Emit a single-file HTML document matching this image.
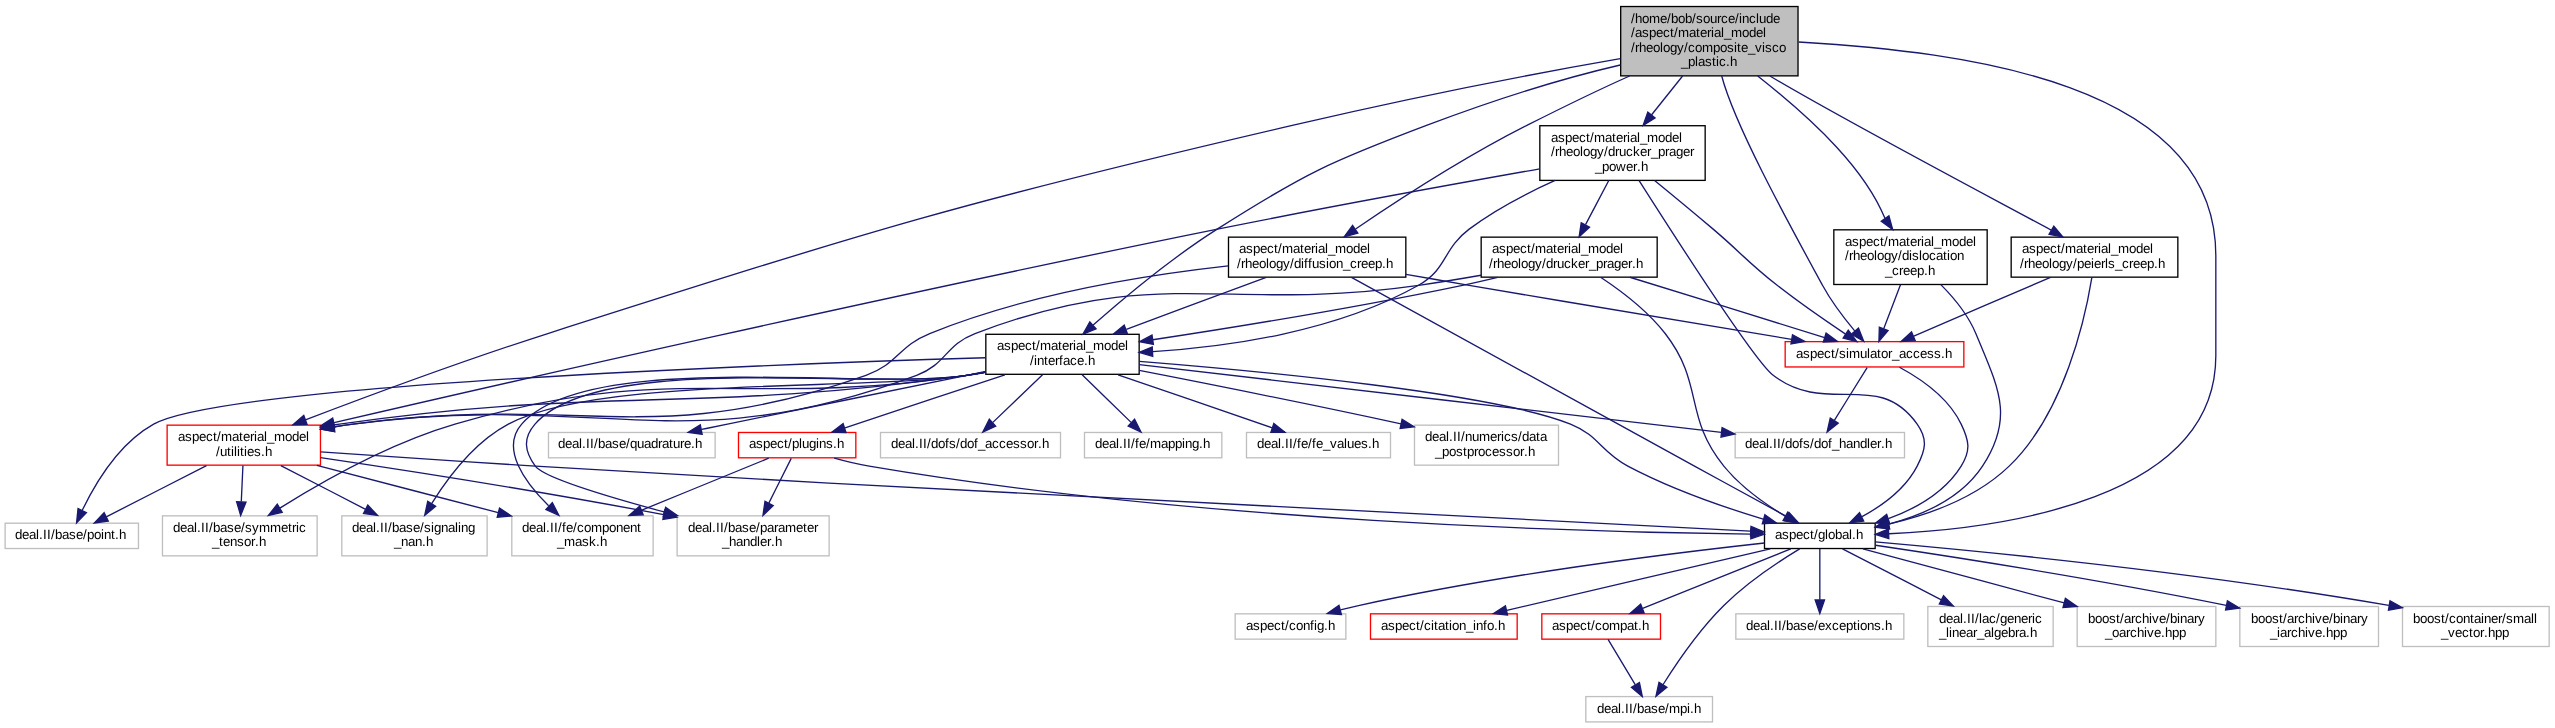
<!DOCTYPE html><html><head><meta charset="utf-8"><style>html,body{margin:0;padding:0;background:#fff;overflow:hidden}svg{display:block}text{font-family:"Liberation Sans",sans-serif;font-size:13.33px;fill:#000;text-rendering:geometricPrecision}</style></head><body>
<svg width="2555" height="728" viewBox="0 0 2555 728">
<defs><filter id="g" x="0" y="0" width="1" height="1"><feOffset dx="0" dy="0"/></filter></defs>
<g><rect x="1620.69" y="6.53" width="177.33" height="69.33" fill="#bfbfbf" stroke="#000" stroke-width="1.33"/><rect x="1228.5" y="237.15" width="177.33" height="40" fill="#fff" stroke="#000" stroke-width="1.33"/><rect x="1764.5" y="523.19" width="110.67" height="25.33" fill="#fff" stroke="#000" stroke-width="1.33"/><rect x="985.83" y="334.3" width="153.33" height="40" fill="#fff" stroke="#000" stroke-width="1.33"/><rect x="167.13" y="425.15" width="153.33" height="40" fill="#fff" stroke="#f00" stroke-width="1.33"/><rect x="1785.17" y="341.63" width="178.67" height="25.33" fill="#fff" stroke="#f00" stroke-width="1.33"/><rect x="1833.83" y="229.82" width="153.33" height="54.67" fill="#fff" stroke="#000" stroke-width="1.33"/><rect x="2011.17" y="237.15" width="166.67" height="40" fill="#fff" stroke="#000" stroke-width="1.33"/><rect x="1539.83" y="125.72" width="165.33" height="54.67" fill="#fff" stroke="#000" stroke-width="1.33"/><rect x="1235.17" y="613.83" width="110.67" height="25.33" fill="#fff" stroke="#bfbfbf" stroke-width="1.33"/><rect x="1370.5" y="613.83" width="146.67" height="25.33" fill="#fff" stroke="#f00" stroke-width="1.33"/><rect x="1541.83" y="613.83" width="118.67" height="25.33" fill="#fff" stroke="#f00" stroke-width="1.33"/><rect x="1585.83" y="696.58" width="126.67" height="25.33" fill="#fff" stroke="#bfbfbf" stroke-width="1.33"/><rect x="1735.83" y="613.83" width="168" height="25.33" fill="#fff" stroke="#bfbfbf" stroke-width="1.33"/><rect x="1927.83" y="606.5" width="125.33" height="40" fill="#fff" stroke="#bfbfbf" stroke-width="1.33"/><rect x="2077.17" y="606.5" width="138.67" height="40" fill="#fff" stroke="#bfbfbf" stroke-width="1.33"/><rect x="2239.83" y="606.5" width="138.67" height="40" fill="#fff" stroke="#bfbfbf" stroke-width="1.33"/><rect x="2402.5" y="606.5" width="146.67" height="40" fill="#fff" stroke="#bfbfbf" stroke-width="1.33"/><rect x="1414.5" y="425.15" width="144" height="40" fill="#fff" stroke="#bfbfbf" stroke-width="1.33"/><rect x="5.13" y="523.19" width="133.33" height="25.33" fill="#fff" stroke="#bfbfbf" stroke-width="1.33"/><rect x="677.13" y="515.85" width="152" height="40" fill="#fff" stroke="#bfbfbf" stroke-width="1.33"/><rect x="162.47" y="515.85" width="154.67" height="40" fill="#fff" stroke="#bfbfbf" stroke-width="1.33"/><rect x="511.8" y="515.85" width="141.33" height="40" fill="#fff" stroke="#bfbfbf" stroke-width="1.33"/><rect x="341.8" y="515.85" width="145.33" height="40" fill="#fff" stroke="#bfbfbf" stroke-width="1.33"/><rect x="548.47" y="432.48" width="166.67" height="25.33" fill="#fff" stroke="#bfbfbf" stroke-width="1.33"/><rect x="880.5" y="432.48" width="180" height="25.33" fill="#fff" stroke="#bfbfbf" stroke-width="1.33"/><rect x="1084.5" y="432.48" width="137.33" height="25.33" fill="#fff" stroke="#bfbfbf" stroke-width="1.33"/><rect x="1246.5" y="432.48" width="144" height="25.33" fill="#fff" stroke="#bfbfbf" stroke-width="1.33"/><rect x="1735.17" y="432.48" width="169.33" height="25.33" fill="#fff" stroke="#bfbfbf" stroke-width="1.33"/><rect x="738.5" y="432.48" width="117.33" height="25.33" fill="#fff" stroke="#f00" stroke-width="1.33"/><rect x="1481.17" y="237.15" width="176" height="40" fill="#fff" stroke="#000" stroke-width="1.33"/></g>
<g fill="none" stroke="#191970" stroke-width="1.33"><path d="M1629.6,76C1592.9,92.32 1565.69,105.83 1527.83,124.92 1465.17,156.52 1396.94,200.9 1355.62,229"/><path d="M1798.6,42C1965.09,51.82 2215.83,82.64 2215.83,255.82 2215.83,255.82 2215.83,255.82 2215.83,355.65 2215.83,499.34 2002.47,528.43 1888.97,533.77"/><path d="M1620.3,65C1557.97,79.4 1499.97,97.7 1427.83,124.92 1330.09,161.78 1305.31,173.08 1217.17,229.12 1171.46,258.18 1123.41,298.42 1093.21,325.05"/><path d="M1620.3,58.7C1537.02,73.16 1418.62,96.06 1294.47,124.92 958.85,202.76 876.13,228.86 547.8,333.53 463.01,360.66 366.52,396.56 305.41,419.9"/><path d="M1721.7,76C1734.53,124.26 1784.15,215.03 1822.5,285.29 1831.41,301.64 1844.09,318.23 1854.69,330.89"/><path d="M1757.7,76C1818.56,124.13 1865.06,170.33 1884.95,218.33"/><path d="M1769.9,76C1841.62,118.72 1979.53,191.52 2051.11,230.06"/><path d="M1682.6,76L1651.45,114.96"/><path d="M1351.47,277.33C1417.71,313.7 1567.89,396.54 1694.5,466.13 1725.73,483.27 1761.39,502.71 1786.67,516.48"/><path d="M1266.25,277.38C1225.99,292.31 1169.57,313.24 1126.31,329.29"/><path d="M1228.21,265.9C1147.82,274.85 1027.46,293.97 929.7,333.53 898.36,346.2 897.91,364.05 865.99,375.31 649.93,451.55 579.85,392.97 352.99,424.13 346.75,424.99 340.33,425.95 333.88,426.97"/><path d="M1405.95,274.29C1426.7,277.93 1448.7,281.78 1469.17,285.29 1580.74,304.44 1709.71,325.85 1791.66,339.36"/><path d="M1764.38,542.98C1677.31,552.6 1503.54,574 1358.5,605.53 1352.61,606.81 1346.46,608.33 1340.39,609.92"/><path d="M1770.29,548.79C1702.53,564.64 1580.89,593.09 1506.75,610.42"/><path d="M1790.79,548.88C1752.79,564.17 1685.93,591.05 1642.61,608.48"/><path d="M1799.67,548.85C1779.21,561.26 1747.27,582.28 1723.83,605.53 1699.27,629.86 1676.73,662.88 1662.98,684.77"/><path d="M1819.83,549.07C1819.83,561.99 1819.83,583.04 1819.83,599.74"/><path d="M1842.5,548.88C1867.58,561.82 1908.77,583.03 1941.34,599.82"/><path d="M1862.87,548.79C1913.93,562.53 2000.18,585.75 2064.19,602.98"/><path d="M1875.49,545.24C1951.7,556.54 2093.06,578.48 2226.3,605.32"/><path d="M1875.21,541.85C1975.18,550.67 2192.65,571.81 2388.9,605.41"/><path d="M1608.05,639.31C1615.1,651.08 1626.29,669.73 1635.21,684.61"/><path d="M1139.41,361.32C1261.54,371.11 1493.82,393.15 1570.5,424.13 1599.69,435.93 1599.98,451.38 1627.83,466.13 1671.26,489.13 1723.97,507.28 1763.17,519.08"/><path d="M1139.27,370.41C1205.3,383.26 1303.45,402.73 1401.01,423.85"/><path d="M985.88,372.28C979.44,373.4 973.01,374.43 966.8,375.31 690.08,414.34 616.22,385.11 339.5,424.13 337.56,424.4 335.59,424.7 333.62,425"/><path d="M985.5,357.78C779.34,364.01 225.65,384.25 153.67,424.13 119.19,443.24 94.98,484.03 82.23,510.31"/><path d="M985.71,372.03C979.28,373.21 972.86,374.33 966.65,375.31 871.32,390.45 598.91,350.97 535,424.13 522.85,438.06 524.3,451.12 535.3,466.13 543.57,477.4 607.61,496.72 664.14,511.95"/><path d="M985.72,372.16C979.29,373.31 972.87,374.38 966.65,375.31 740.77,409.16 674.21,359.94 455,424.13 390.14,443.13 321.69,481.92 279.85,508.07"/><path d="M985.71,372.06C979.28,373.24 972.86,374.34 966.65,375.31 868.39,390.75 587.67,348.88 521.67,424.13 500.29,448.52 524.67,482.09 548.62,505.8"/><path d="M985.72,372.09C979.28,373.25 972.86,374.35 966.65,375.31 865.46,391.04 598.92,376.07 508.33,424.13 474.69,441.98 447.89,477.59 431.66,503.54"/><path d="M985.72,371.44C979.32,372.75 972.96,374.05 966.8,375.31 860.46,397.08 833.84,402.37 727.5,424.13 719.1,425.85 710.28,427.66 701.55,429.45"/><path d="M1042.54,374.77C1027.91,388.79 1008.05,407.83 992.87,422.36"/><path d="M1082.17,374.77C1096.59,388.79 1116.17,407.83 1131.11,422.36"/><path d="M1118.05,374.77C1164.15,390.65 1228.98,412.97 1272.29,427.89"/><path d="M1139.29,364.59C1277.63,380.68 1568.54,414.54 1721.33,432.34"/><path d="M1004.93,374.77C957.14,390.65 889.95,412.97 845.06,427.89"/><path d="M320.53,451.96C379.35,456.08 462.54,461.73 535.5,466.13 999.17,494.08 1557.45,521.75 1750.34,531.14"/><path d="M206.48,465.59C176.69,480.84 135.31,502.01 106.29,516.85"/><path d="M320.53,457.58C402.35,469.68 535.99,490.35 663.73,514.68"/><path d="M242.93,465.59C242.45,476.1 241.85,489.41 241.29,501.52"/><path d="M316.87,465.48C370.16,479.33 442.48,498.12 498.21,512.61"/><path d="M280.83,465.59C305.65,478.4 338.61,495.39 365.59,509.29"/><path d="M834.23,458.09C845.37,461.17 857.67,464.17 869.17,466.13 1195.85,521.88 1593.01,532.25 1750.61,534.12"/><path d="M791.24,458.38C785.52,469.8 776.6,487.6 768.82,503.12"/><path d="M768.67,458.19C736.3,471.45 682.65,493.44 641.22,510.42"/><path d="M1899.49,367.27C1920.27,378.49 1948.43,397.68 1961.17,424.13 1969.25,440.92 1970.97,450.36 1961.17,466.13 1944.95,492.22 1915.94,508.56 1888.41,518.69"/><path d="M1867.13,367.54C1858.77,381.02 1844.93,403.33 1834.38,420.35"/><path d="M1940.82,284.65C1953.98,297.86 1968.11,315.01 1975.83,333.53 1998.3,387.83 2014.81,417 1982.5,466.13 1961.58,497.91 1923.15,514.94 1888.89,524.05"/><path d="M1900.47,284.81C1895.22,298.58 1888.83,315.33 1883.71,328.78"/><path d="M2091.89,277.33C2085.34,317.43 2064.61,412.66 2009.17,466.13 1976.31,497.79 1928.09,514.92 1888.54,524.12"/><path d="M2050.51,277.38C2010.58,294.52 1952.23,319.58 1913.82,336.07"/><path d="M1639.11,180.62C1674.34,235.98 1754.82,361.25 1773.17,375.31 1827.03,416.62 1877.73,368.47 1917.17,424.13 1927.91,439.29 1925.7,449.62 1917.17,466.13 1905.47,488.78 1882.67,505.41 1862.07,516.6"/><path d="M1555.18,180.48C1527.18,193 1495.21,209.54 1469.17,229.12 1442.33,249.3 1447.78,268.79 1418.5,285.29 1336.25,331.65 1228.25,346.91 1152.86,351.6"/><path d="M1539.74,168.84C1457.78,183.35 1328.77,206.7 1217.51,229.12 891.31,295.02 505.77,382.79 334.09,422.68"/><path d="M1654.58,180.44C1672.02,194.69 1693.89,212.75 1713.17,229.12 1741.98,253.61 1747.35,261.93 1777.17,285.29 1799.45,302.74 1825.86,320.96 1845.55,334.09"/><path d="M1608.77,180.5C1601.67,193.98 1592.98,210.53 1585.54,224.68"/><path d="M1600.98,277.53C1621.45,291.08 1647.43,310.83 1665.17,333.53 1704.49,384.18 1683.29,416.25 1723.83,466.13 1740.69,486.85 1765.19,504.16 1785.22,516.17"/><path d="M1497.62,277.29C1485.93,280.12 1473.9,282.89 1462.5,285.29 1356.71,307.49 1234.02,327.39 1152.7,339.77"/><path d="M1481.03,275.23C1460.6,278.82 1438.93,282.39 1418.7,285.29 1222.38,313.4 1160.25,263.13 975.03,333.53 945.27,344.84 946.55,364.21 916.65,375.31 680.76,462.86 602.21,390.98 352.99,424.13 346.75,424.96 340.33,425.89 333.87,426.9"/><path d="M1629.86,277.26C1686.93,294.92 1771.35,321.04 1824.62,337.52"/></g>
<g fill="#191970" stroke="#191970" stroke-width="1.33"><polygon points="1357.83,233.15 1344.19,236.82 1352.57,225.44 1357.83,233.15"/><polygon points="1888.82,538.51 1875.31,534.31 1888.45,529.04 1888.82,538.51"/><polygon points="1096.01,328.81 1082.94,334.18 1089.82,321.79 1096.01,328.81"/><polygon points="307.05,424.35 292.92,424.69 303.76,415.47 307.05,424.35"/><polygon points="1858.46,328.1 1863.69,341.3 1851.42,334.25 1858.46,328.1"/><polygon points="1888.93,215.87 1892.7,229.5 1881.26,221.2 1888.93,215.87"/><polygon points="2053.82,226.24 2062.9,237.06 2049.06,234.27 2053.82,226.24"/><polygon points="1655.08,117.91 1643.1,125.4 1647.81,112.02 1655.08,117.91"/><polygon points="1788.98,512.35 1798.53,522.92 1784.57,520.7 1788.98,512.35"/><polygon points="1127.46,333.86 1113.34,334.1 1124.23,325.06 1127.46,333.86"/><polygon points="334.64,431.67 320.73,429.14 333.16,422.3 334.64,431.67"/><polygon points="1792.5,334.73 1804.9,341.54 1790.98,343.99 1792.5,334.73"/><polygon points="1341.42,614.55 1327.34,613.55 1338.97,605.42 1341.42,614.55"/><polygon points="1507.53,615.11 1493.49,613.54 1505.43,605.88 1507.53,615.11"/><polygon points="1644.09,612.98 1629.98,613.56 1640.65,604.17 1644.09,612.98"/><polygon points="1666.94,687.26 1655.95,696.22 1659.01,682.3 1666.94,687.26"/><polygon points="1824.5,599.94 1819.83,613.47 1815.17,599.94 1824.5,599.94"/><polygon points="1943.57,595.65 1953.34,606 1939.34,604.09 1943.57,595.65"/><polygon points="2065.39,598.41 2077.09,606.46 2062.99,607.57 2065.39,598.41"/><polygon points="2227.42,600.72 2239.58,608.02 2225.59,610 2227.42,600.72"/><polygon points="2390.03,600.79 2402.39,607.73 2388.46,610.13 2390.03,600.79"/><polygon points="1639.39,682.5 1642.3,696.45 1631.41,687.38 1639.39,682.5"/><polygon points="1764.91,514.67 1776.42,522.98 1762.31,523.76 1764.91,514.67"/><polygon points="1402.07,419.24 1414.14,426.71 1400.13,428.51 1402.07,419.24"/><polygon points="334.59,429.69 320.68,427.17 333.11,420.32 334.59,429.69"/><polygon points="86.48,512.65 76.56,522.87 78.04,508.6 86.48,512.65"/><polygon points="665.61,507.4 677.32,515.42 663.24,516.56 665.61,507.4"/><polygon points="282.2,512.3 268.41,515.41 277.27,504.24 282.2,512.3"/><polygon points="552.29,502.59 558.87,515.29 545.93,509.54 552.29,502.59"/><polygon points="435.68,506.34 424.72,515.38 427.73,501.37 435.68,506.34"/><polygon points="702.13,434.22 688.15,432.24 700.29,424.92 702.13,434.22"/><polygon points="995.71,426.17 982.81,432.01 989.31,419.25 995.71,426.17"/><polygon points="1134.62,419.21 1141.03,432.01 1128.18,426.07 1134.62,419.21"/><polygon points="1273.86,423.41 1284.99,432.25 1270.87,432.4 1273.86,423.41"/><polygon points="1722.06,427.64 1734.78,433.9 1720.99,437.07 1722.06,427.64"/><polygon points="846.02,432.57 831.89,432.25 843.11,423.54 846.02,432.57"/><polygon points="1750.98,526.43 1764.07,531.82 1750.53,535.89 1750.98,526.43"/><polygon points="108.32,521.12 94.31,522.98 104.12,512.66 108.32,521.12"/><polygon points="664.64,510.04 676.87,517.2 662.91,519.35 664.64,510.04"/><polygon points="245.95,502.14 240.67,515.44 236.61,501.7 245.95,502.14"/><polygon points="499.51,508.06 511.27,516.01 497.2,517.24 499.51,508.06"/><polygon points="367.73,505.08 377.51,515.44 363.51,513.54 367.73,505.08"/><polygon points="1750.93,529.38 1764.21,534.27 1750.82,538.86 1750.93,529.38"/><polygon points="773.28,505.62 762.96,515.42 765,501.24 773.28,505.62"/><polygon points="643.2,514.87 629.08,515.51 639.72,506.07 643.2,514.87"/><polygon points="1889.62,523.28 1875.5,523.06 1886.67,514.29 1889.62,523.28"/><polygon points="1838.15,423.16 1827.09,432.09 1830.26,418.1 1838.15,423.16"/><polygon points="1889.57,528.75 1875.51,527.27 1887.41,519.53 1889.57,528.75"/><polygon points="1888.06,330.5 1878.93,341.34 1879.34,327.15 1888.06,330.5"/><polygon points="1889.5,528.76 1875.49,526.95 1887.55,519.49 1889.5,528.76"/><polygon points="1915.22,340.58 1901.13,341.53 1911.55,331.95 1915.22,340.58"/><polygon points="1863.66,521.08 1849.65,522.87 1859.51,512.6 1863.66,521.08"/><polygon points="1152.74,356.33 1139.18,352.37 1152.23,346.95 1152.74,356.33"/><polygon points="334.73,427.43 320.69,425.81 332.65,418.18 334.73,427.43"/><polygon points="1848.27,330.27 1856.85,341.55 1843.14,338.11 1848.27,330.27"/><polygon points="1589.49,227.2 1579.15,236.82 1581.23,222.85 1589.49,227.2"/><polygon points="1787.7,512.16 1797.01,522.95 1783.1,520.41 1787.7,512.16"/><polygon points="1153.39,344.41 1139.51,341.77 1152.01,335.14 1153.39,344.41"/><polygon points="334.63,431.6 320.72,429.05 333.16,422.23 334.63,431.6"/><polygon points="1826.07,333.07 1837.45,341.5 1823.33,342.04 1826.07,333.07"/></g>
<g filter="url(#g)"><text x="1631 1635 1642 1649 1660 1667 1671 1678 1685 1692 1696 1703 1710 1717 1721 1728 1735 1739 1742 1749 1756 1759 1766 1773" y="23">/home/bob/source/include</text><text x="1631 1635 1642 1649 1656 1663 1670 1674 1678 1689 1696 1700 1707 1711 1714 1721 1724 1731 1742 1749 1756 1763" y="37">/aspect/material_model</text><text x="1631 1635 1639 1646 1653 1660 1663 1670 1677 1684 1688 1695 1702 1713 1720 1727 1734 1737 1741 1748 1755 1762 1765 1772 1779" y="52">/rheology/composite_visco</text><text x="1681 1688 1695 1698 1705 1712 1716 1719 1726 1730" y="66">_plastic.h</text><text x="1239 1246 1253 1260 1267 1274 1278 1282 1293 1300 1304 1311 1315 1318 1325 1328 1335 1346 1353 1360 1367" y="253">aspect/material_model</text><text x="1237 1241 1245 1252 1259 1266 1269 1276 1283 1290 1294 1301 1304 1308 1312 1319 1326 1329 1336 1343 1350 1357 1361 1368 1375 1382 1386" y="268">/rheology/diffusion_creep.h</text><text x="1775 1782 1789 1796 1803 1810 1814 1818 1825 1828 1835 1842 1849 1852 1856" y="539">aspect/global.h</text><text x="997 1004 1011 1018 1025 1032 1036 1040 1051 1058 1062 1069 1073 1076 1083 1086 1093 1104 1111 1118 1125" y="350">aspect/material_model</text><text x="1030 1034 1037 1044 1048 1055 1059 1063 1070 1077 1084 1088" y="365">/interface.h</text><text x="178 185 192 199 206 213 217 221 232 239 243 250 254 257 264 267 274 285 292 299 306" y="441">aspect/material_model</text><text x="216 220 227 231 234 237 240 244 247 254 261 265" y="456">/utilities.h</text><text x="1796 1803 1810 1817 1824 1831 1835 1839 1846 1849 1860 1867 1870 1877 1881 1888 1892 1899 1906 1913 1920 1927 1934 1941 1945" y="358">aspect/simulator_access.h</text><text x="1845 1852 1859 1866 1873 1880 1884 1888 1899 1906 1910 1917 1921 1924 1931 1934 1941 1952 1959 1966 1973" y="246">aspect/material_model</text><text x="1845 1849 1853 1860 1867 1874 1877 1884 1891 1898 1902 1909 1912 1919 1922 1929 1936 1943 1947 1950 1957" y="260">/rheology/dislocation</text><text x="1885 1892 1899 1903 1910 1917 1924 1928" y="275">_creep.h</text><text x="2022 2029 2036 2043 2050 2057 2061 2065 2076 2083 2087 2094 2098 2101 2108 2111 2118 2129 2136 2143 2150" y="253">aspect/material_model</text><text x="2020 2024 2028 2035 2042 2049 2052 2059 2066 2073 2077 2084 2091 2094 2101 2105 2108 2115 2122 2129 2133 2140 2147 2154 2158" y="268">/rheology/peierls_creep.h</text><text x="1551 1558 1565 1572 1579 1586 1590 1594 1605 1612 1616 1623 1627 1630 1637 1640 1647 1658 1665 1672 1679" y="142">aspect/material_model</text><text x="1551 1555 1559 1566 1573 1580 1583 1590 1597 1604 1608 1615 1619 1626 1633 1640 1647 1651 1658 1665 1669 1676 1683 1690" y="156">/rheology/drucker_prager</text><text x="1595 1602 1609 1616 1626 1633 1637 1641" y="171">_power.h</text><text x="1246 1253 1260 1267 1274 1281 1285 1289 1296 1303 1310 1314 1317 1324 1328" y="630">aspect/config.h</text><text x="1381 1388 1395 1402 1409 1416 1420 1424 1431 1434 1438 1445 1449 1452 1459 1466 1473 1476 1483 1487 1494 1498" y="630">aspect/citation_info.h</text><text x="1552 1559 1566 1573 1580 1587 1591 1595 1602 1609 1620 1627 1634 1638 1642" y="630">aspect/compat.h</text><text x="1597 1604 1611 1618 1621 1625 1629 1633 1637 1644 1651 1658 1665 1669 1680 1687 1690 1694" y="713">deal.II/base/mpi.h</text><text x="1746 1753 1760 1767 1770 1774 1778 1782 1786 1793 1800 1807 1814 1818 1825 1832 1839 1846 1853 1857 1860 1867 1874 1881 1885" y="630">deal.II/base/exceptions.h</text><text x="1939 1946 1953 1960 1963 1967 1971 1975 1979 1982 1989 1996 2000 2007 2014 2021 2028 2032 2035" y="623">deal.II/lac/generic</text><text x="1939 1946 1949 1952 1959 1966 1973 1977 1984 1991 1994 2001 2008 2015 2019 2026 2030" y="637">_linear_algebra.h</text><text x="2088 2095 2102 2109 2116 2120 2124 2131 2135 2142 2149 2152 2159 2166 2170 2177 2180 2187 2194 2198" y="623">boost/archive/binary</text><text x="2105 2112 2119 2126 2130 2137 2144 2147 2154 2161 2165 2172 2179" y="637">_oarchive.hpp</text><text x="2251 2258 2265 2272 2279 2283 2287 2294 2298 2305 2312 2315 2322 2329 2333 2340 2343 2350 2357 2361" y="623">boost/archive/binary</text><text x="2270 2277 2280 2287 2291 2298 2305 2308 2315 2322 2326 2333 2340" y="637">_iarchive.hpp</text><text x="2413 2420 2427 2434 2441 2445 2449 2456 2463 2470 2474 2481 2484 2491 2498 2502 2506 2513 2524 2531 2534" y="623">boost/container/small</text><text x="2441 2448 2455 2462 2469 2473 2480 2484 2488 2495 2502" y="637">_vector.hpp</text><text x="1425 1432 1439 1446 1449 1453 1457 1461 1465 1472 1479 1490 1497 1501 1504 1511 1518 1522 1529 1536 1540" y="441">deal.II/numerics/data</text><text x="1435 1442 1449 1456 1463 1467 1474 1478 1485 1492 1499 1506 1513 1520 1524 1528" y="456">_postprocessor.h</text><text x="15 22 29 36 39 43 47 51 55 62 69 76 83 87 94 101 104 111 115 119" y="539">deal.II/base/point.h</text><text x="688 695 702 709 712 716 720 724 728 735 742 749 756 760 767 774 778 785 796 803 807 814" y="532">deal.II/base/parameter</text><text x="722 729 736 743 750 757 760 767 771 775" y="546">_handler.h</text><text x="173 180 187 194 197 201 205 209 213 220 227 234 241 245 252 259 270 281 288 292 296 299" y="532">deal.II/base/symmetric</text><text x="212 219 223 230 237 244 251 255 259" y="546">_tensor.h</text><text x="522 529 536 543 546 550 554 558 562 566 573 577 584 591 602 609 616 623 630 637" y="532">deal.II/fe/component</text><text x="557 564 575 582 589 596 600" y="546">_mask.h</text><text x="352 359 366 373 376 380 384 388 392 399 406 413 420 424 431 434 441 448 455 458 461 468" y="532">deal.II/base/signaling</text><text x="394 401 408 415 422 426" y="546">_nan.h</text><text x="558 565 572 579 582 586 590 594 598 605 612 619 626 630 637 644 651 658 662 669 673 680 684 691 695" y="448">deal.II/base/quadrature.h</text><text x="891 898 905 912 915 919 923 927 931 938 945 949 956 960 967 974 978 985 992 999 1006 1013 1020 1027 1034 1038 1042" y="448">deal.II/dofs/dof_accessor.h</text><text x="1095 1102 1109 1116 1119 1123 1127 1131 1135 1139 1146 1150 1161 1168 1175 1182 1185 1192 1199 1203" y="448">deal.II/fe/mapping.h</text><text x="1257 1264 1271 1278 1281 1285 1289 1293 1297 1301 1308 1312 1316 1323 1330 1337 1344 1347 1354 1361 1368 1372" y="448">deal.II/fe/fe_values.h</text><text x="1745 1752 1759 1766 1769 1773 1777 1781 1785 1792 1799 1803 1810 1814 1821 1828 1832 1839 1846 1853 1860 1867 1870 1877 1881 1885" y="448">deal.II/dofs/dof_handler.h</text><text x="749 756 763 770 777 784 788 792 799 802 809 816 819 826 833 837" y="448">aspect/plugins.h</text><text x="1492 1499 1506 1513 1520 1527 1531 1535 1546 1553 1557 1564 1568 1571 1578 1581 1588 1599 1606 1613 1620" y="253">aspect/material_model</text><text x="1489 1493 1497 1504 1511 1518 1521 1528 1535 1542 1546 1553 1557 1564 1571 1578 1585 1589 1596 1603 1607 1614 1621 1628 1632 1636" y="268">/rheology/drucker_prager.h</text></g>
</svg></body></html>
